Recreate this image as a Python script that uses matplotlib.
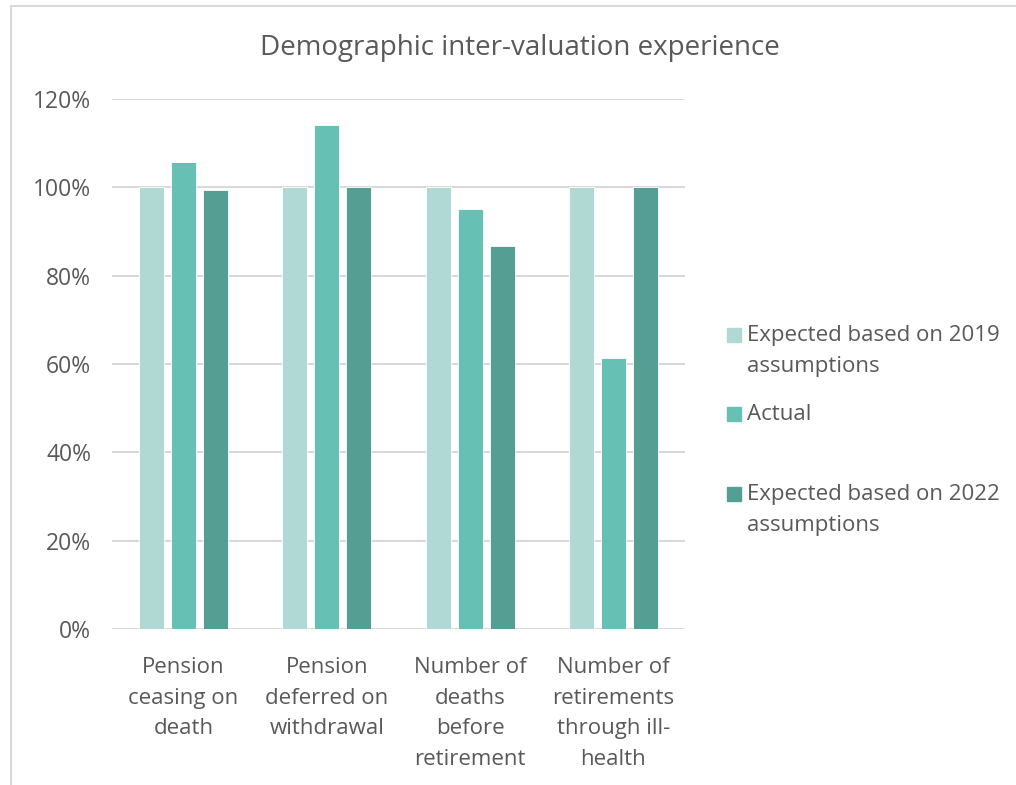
import matplotlib.pyplot as plt
import numpy as np
from matplotlib.patches import Rectangle
from matplotlib.ticker import PercentFormatter

plt.rcParams["font.family"] = ["Open Sans", "DejaVu Sans"]

categories = [
    "Pension\nceasing on\ndeath",
    "Pension\ndeferred on\nwithdrawal",
    "Number of\ndeaths\nbefore\nretirement",
    "Number of\nretirements\nthrough ill-\nhealth",
]
series_names = [
    "Expected based on 2019\nassumptions",
    "Actual",
    "Expected based on 2022\nassumptions",
]
expected_2019 = [100.0, 100.0, 100.0, 100.0]
actual = [105.7, 114.2, 95.0, 61.3]
expected_2022 = [99.4, 100.0, 86.7, 100.0]
colors = ["#B0D9D4", "#67C0B4", "#549E93"]

text_col = "#595959"
grid_col = "#D9D9D9"
W, H = 1016, 785

fig = plt.figure(figsize=(W / 100, H / 100), dpi=100)
ax = fig.add_axes([112 / W, 1 - 629 / H, (685 - 112) / W, (629 - 99) / H])

# chart border
fig.patches.append(Rectangle((11 / W, -0.05), 1.1, 1 - 6 / H + 0.05,
                             transform=fig.transFigure, fill=False,
                             edgecolor=grid_col, linewidth=1.5))

x = np.arange(len(categories))
width = 0.175
step = 0.223
for i, vals in enumerate([expected_2019, actual, expected_2022]):
    ax.bar(x + (i - 1) * step, vals, width, color=colors[i],
           edgecolor="white", linewidth=0.6, zorder=3)

ax.set_xlim(-0.5, len(categories) - 0.5)
ax.set_ylim(0, 120)
ax.set_yticks(np.arange(0, 121, 20))
ax.yaxis.set_major_formatter(PercentFormatter(decimals=0))
ax.grid(axis="y", color=grid_col, linewidth=1.5, zorder=0)
for s in ax.spines.values():
    s.set_visible(False)
ax.tick_params(axis="both", length=0, labelsize=16, labelcolor=text_col)
ax.tick_params(axis="y", pad=15, labelsize=16.5)
ax.tick_params(axis="x", pad=20)
ax.set_xticks(x)
ax.set_xticklabels(categories, linespacing=1.61)

fig.text(520 / W, 1 - 48 / H, "Demographic inter-valuation experience",
         ha="center", va="center", fontsize=20, color=text_col)

# legend
leg_tops = [320, 399, 479]
for name, col, top in zip(series_names, colors, leg_tops):
    fig.patches.append(Rectangle((727 / W, 1 - (top + 22) / H), 14 / W, 14 / H,
                                 transform=fig.transFigure, color=col))
    fig.text(747 / W, 1 - (top + 5) / H, name, ha="left", va="top",
             fontsize=16, color=text_col, linespacing=1.61)

fig.savefig("out.png", dpi=100)
